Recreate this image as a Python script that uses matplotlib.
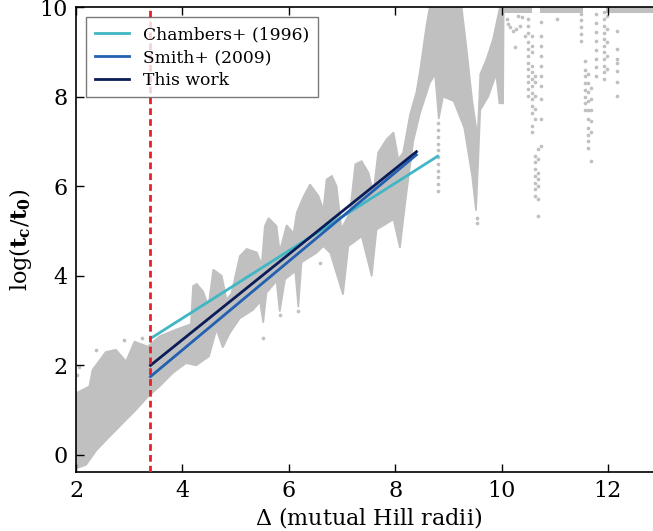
import matplotlib
matplotlib.use("Agg")
import matplotlib.pyplot as plt

plt.rcParams['font.family'] = 'DejaVu Serif'
plt.rcParams['mathtext.fontset'] = 'dejavuserif'

# ------------------------------------------------------------------
# dense cloud of simulation points, outline
# ------------------------------------------------------------------
upper_x = [2.00, 2.25, 2.31, 2.56, 2.75, 2.94, 3.10, 3.35, 3.57, 3.88,
           4.16, 4.20, 4.27, 4.39, 4.49, 4.58, 4.74, 4.83, 4.92, 5.08,
           5.21, 5.40, 5.49, 5.55, 5.62, 5.77, 5.83, 5.96, 6.09, 6.15,
           6.27, 6.40, 6.56, 6.65, 6.71, 6.81, 6.90, 6.99, 7.15, 7.25,
           7.37, 7.50, 7.59, 7.68, 7.84, 7.97, 8.06, 8.15, 8.28, 8.40,
           8.47, 8.59, 8.65, 9.25, 9.35, 9.45, 9.55, 9.60, 9.72, 9.84, 9.97]
upper_y = [1.38, 1.53, 1.90, 2.30, 2.35, 2.09, 2.53, 2.42, 2.65, 2.80,
           2.92, 3.77, 3.82, 3.65, 3.32, 4.14, 4.00, 3.47, 3.60, 4.44,
           4.60, 4.52, 4.25, 5.11, 5.29, 5.11, 4.55, 5.13, 4.95, 5.41,
           5.75, 6.04, 5.78, 5.48, 6.15, 6.23, 6.00, 5.05, 5.41, 6.49,
           6.56, 6.30, 5.85, 6.75, 7.05, 7.20, 6.60, 6.75, 7.60, 8.10,
           8.60, 9.60, 10.0, 10.0, 9.00, 7.90, 7.10, 8.50, 8.84, 9.28, 10.0]

lower_x = [2.00, 2.19, 2.38, 2.63, 2.88, 3.13, 3.35, 3.57, 3.82, 4.07,
           4.26, 4.50, 4.64, 4.76, 4.89, 5.08, 5.33, 5.46, 5.52, 5.58,
           5.77, 5.83, 5.93, 6.12, 6.18, 6.24, 6.52, 6.65, 6.78, 7.02,
           7.12, 7.37, 7.56, 7.65, 7.97, 8.09, 8.19, 8.34, 8.47, 8.65,
           8.75, 8.82, 8.90, 9.10, 9.30, 9.45, 9.52, 9.56, 9.60, 9.75,
           9.90, 9.96, 10.03, 10.04]
lower_y = [-0.30, -0.22, 0.10, 0.41, 0.71, 1.01, 1.30, 1.53, 1.83, 2.05,
           2.00, 2.20, 2.80, 2.40, 2.72, 3.05, 3.24, 3.42, 2.95, 3.62,
           3.88, 3.20, 3.92, 4.10, 3.30, 4.30, 4.51, 4.66, 4.51, 3.58,
           4.66, 4.88, 3.99, 5.03, 5.26, 4.62, 5.63, 7.00, 7.64, 8.30,
           8.50, 7.50, 8.00, 7.90, 7.30, 6.20, 5.45, 6.50, 7.70, 8.00,
           8.50, 7.85, 7.85, 9.87]

# saturated runs along the top (x ranges)
band_start = [9.97, 10.72, 11.97]
band_end = [10.57, 11.54, 13.00]
band_low, band_high = 9.87, 10.0

# isolated points (x, list of y)
dot_columns = [
    (8.80, [7.40, 7.25, 7.10, 6.95, 6.80, 6.65, 6.50, 6.35, 6.20, 6.05, 5.90]),
    (9.53, [5.30, 5.18]),
    (10.50, [9.73, 9.58, 9.43, 9.21, 9.06, 8.91, 8.76, 8.61, 8.46, 8.32, 8.17, 8.02]),
    (10.57, [9.36, 9.14, 8.99, 8.69, 8.54, 8.39, 8.24, 8.09, 7.94, 7.79, 7.64, 7.35, 7.20]),
    (10.63, [8.46, 8.32, 8.02, 7.72, 7.50, 6.68, 6.53, 6.38, 6.23, 6.08, 5.93, 5.78]),
    (10.69, [6.83, 6.60, 6.30, 6.15, 6.00, 5.71, 5.33]),
    (10.74, [9.66, 9.36, 9.14, 8.91, 8.69, 8.46, 8.24, 7.94, 7.50, 6.90]),
    (11.50, [9.85, 9.70, 9.55, 9.40, 9.25]),
    (11.56, [8.80, 8.60, 8.45, 8.30, 8.15, 8.00, 7.85, 7.70]),
    (11.63, [8.50, 8.30, 8.10, 7.90, 7.70, 7.50, 7.30, 7.15, 7.00, 6.85]),
    (11.69, [8.20, 7.95, 7.70, 7.45, 7.20, 6.56]),
    (11.77, [9.85, 9.65, 9.45, 9.25, 9.05, 8.85, 8.65, 8.46]),
    (11.92, [9.88, 9.73, 9.58, 9.43, 9.28, 9.14, 8.99, 8.84, 8.69, 8.54, 8.39]),
    (11.99, [9.81, 9.51, 9.21, 8.91, 8.61]),
    (12.17, [9.47, 9.06, 8.84, 8.76, 8.58, 8.32, 8.02]),
]
stray_x = [10.10, 10.13, 10.16, 10.22, 10.25, 10.28, 10.31, 10.35, 10.38, 10.44, 11.04,
           2.02, 2.06, 2.38, 2.91, 3.25, 5.52, 5.83, 6.18, 6.59]
stray_y = [9.73, 9.62, 9.55, 9.47, 9.10, 9.51, 9.81, 9.58, 9.77, 9.36, 9.73,
           1.79, 1.97, 2.35, 2.57, 2.61, 2.61, 3.13, 3.21, 4.29]

# ------------------------------------------------------------------
# fitted relations
# ------------------------------------------------------------------
fit_labels = ['Chambers+ (1996)', 'Smith+ (2009)', 'This work']
fit_colors = ['#41b6c4', '#2260b0', '#0b1d58']
fit_x = [[3.40, 8.80], [3.40, 8.40], [3.40, 8.40]]
fit_y = [[2.60, 6.67], [1.75, 6.70], [2.00, 6.77]]

delta_crit = 3.40

gray = '#c0c0c0'

fig = plt.figure(figsize=(6.53, 5.31), dpi=100)
ax = fig.add_axes([0.1164, 0.1111, 0.896, 0.8757])

xs = upper_x + lower_x[::-1]
ys = upper_y + lower_y[::-1]
ax.fill(xs, ys, color=gray, ec=gray, lw=1.2, zorder=1)

for s, e in zip(band_start, band_end):
    ax.fill_between([s, e], band_low, band_high, color=gray, lw=0, zorder=1)

for cx, cys in dot_columns:
    ax.scatter([cx] * len(cys), cys, s=7, color=gray, lw=0, zorder=1)
ax.scatter(stray_x, stray_y, s=7, color=gray, lw=0, zorder=1)

for lx, ly, c, lab in zip(fit_x, fit_y, fit_colors, fit_labels):
    ax.plot(lx, ly, color=c, lw=2, label=lab, zorder=3)

ax.axvline(delta_crit, color='#e8202a', lw=2, linestyle=(0, (2.4, 1.5)), zorder=4)

ax.set_xlim(2, 13)
ax.set_ylim(-0.38, 10)
ax.set_xticks([2, 4, 6, 8, 10, 12])
ax.set_yticks([0, 2, 4, 6, 8, 10])
ax.tick_params(direction='in', length=6, width=1, top=True, right=True,
               labelsize=16, pad=6)
for sp in ax.spines.values():
    sp.set_linewidth(1.2)

ax.set_xlabel(r'$\Delta$ (mutual Hill radii)', fontsize=16, labelpad=2)
ax.set_ylabel(r'$\log(\mathbf{t}_\mathbf{c}/\mathbf{t}_\mathbf{0})$', fontsize=16, labelpad=4)

leg = ax.legend(loc='upper left', fontsize=12.3, fancybox=False, frameon=True,
                handlelength=2.0, borderpad=0.5, labelspacing=0.35,
                bbox_to_anchor=(0.012, 0.985), borderaxespad=0.2)
leg.get_frame().set_edgecolor('0.35')
leg.get_frame().set_linewidth(1.0)

fig.savefig('out.png', dpi=100)
